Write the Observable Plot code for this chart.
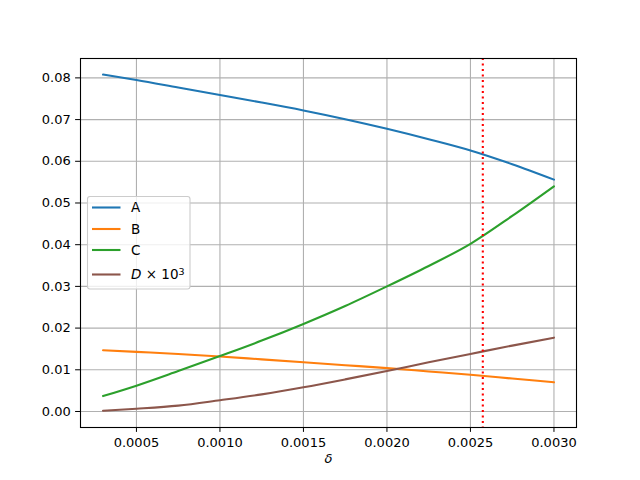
<!DOCTYPE html>
<html>
<head>
<meta charset="utf-8">
<script src="https://cdn.jsdelivr.net/npm/d3@7"></script>
<script src="https://cdn.jsdelivr.net/npm/@observablehq/plot@0.6"></script>
<style>
  html, body { margin: 0; padding: 0; background: #fff; }
  #chart { position: relative; width: 640px; height: 480px; }
</style>
</head>
<body>
<div id="chart"></div>
<script>
// ---- data ----
const delta = [0.0003, 0.0005, 0.00075, 0.001, 0.00125, 0.0015, 0.00175, 0.002, 0.00225, 0.0025, 0.00275, 0.003];
const seriesA = [0.0808, 0.0795, 0.0777, 0.0759, 0.0741, 0.0722, 0.0701, 0.0678, 0.0653, 0.0626, 0.0593, 0.0556];
const seriesB = [0.0147, 0.0143, 0.0138, 0.0132, 0.0125, 0.0118, 0.0111, 0.0104, 0.0096, 0.0088, 0.0079, 0.0070];
const seriesC = [0.0037, 0.0062, 0.0097, 0.0133, 0.0170, 0.0210, 0.0253, 0.0300, 0.0349, 0.0402, 0.0469, 0.0540];
const seriesD = [0.00018, 0.00065, 0.0014, 0.0027, 0.0041, 0.0058, 0.0077, 0.0097, 0.0118, 0.0138, 0.0158, 0.0177];
const seriesNames = ["A", "B", "C", "D"];
const seriesColors = ["#1f77b4", "#ff7f0e", "#2ca02c", "#8c564b"];
const xTicks = [0.0005, 0.0010, 0.0015, 0.0020, 0.0025, 0.0030];
const yTicks = [0.00, 0.01, 0.02, 0.03, 0.04, 0.05, 0.06, 0.07, 0.08];
const markerX = [0.002574];
const xLabel = "δ";

const allSeries = [seriesA, seriesB, seriesC, seriesD];
const table = seriesNames.flatMap((name, i) =>
  delta.map((d, j) => ({ delta: d, value: allSeries[i][j], series: name })));

const grid = "#b0b0b0";
const plot = Plot.plot({
  width: 640,
  height: 480,
  marginLeft: 80,
  marginRight: 64,
  marginTop: 58,
  marginBottom: 53,
  style: { fontFamily: "DejaVu Sans", fontSize: "13px", color: "black", background: "white" },
  x: { domain: [0.000165, 0.003135] },
  y: { domain: [-0.00384, 0.08465] },
  color: { domain: seriesNames, range: seriesColors },
  marks: [
    Plot.gridX(xTicks, { stroke: grid, strokeOpacity: 1, strokeWidth: 1.1 }),
    Plot.gridY(yTicks, { stroke: grid, strokeOpacity: 1, strokeWidth: 1.1 }),
    Plot.line(table, { x: "delta", y: "value", z: "series", stroke: "series", strokeWidth: 2.1, curve: "monotone-x" }),
    Plot.ruleX(markerX, { stroke: "#ff0000", strokeWidth: 2.1, strokeDasharray: "2.1,3.4" }),
    Plot.frame({ stroke: "black", strokeWidth: 1.1 }),
    Plot.axisX(xTicks, { tickFormat: d3.format(".4f"), tickSize: 4.9, tickPadding: 4.9, label: null, fontSize: 13 }),
    Plot.axisY(yTicks, { tickFormat: d3.format(".2f"), tickSize: 4.9, tickPadding: 4.9, label: null, fontSize: 13 }),
    Plot.text([xLabel], { frameAnchor: "bottom", dy: 35, fontStyle: "italic", fontSize: 13 })
  ]
});
document.getElementById("chart").appendChild(plot);

// legend drawn inside the axes, top-left like the reference
const svg = d3.select(plot);
const lg = svg.append("g")
  .style("font-family", "DejaVu Sans")
  .style("font-size", "13px")
  .style("text-anchor", "start");
lg.append("rect")
  .attr("x", 87.5).attr("y", 196.5).attr("width", 102.5).attr("height", 92.5)
  .attr("rx", 2.5).attr("fill", "white").attr("fill-opacity", 0.8)
  .attr("stroke", "#cccccc").attr("stroke-width", 1.1);
const rowY = [207.5, 229, 250, 274.5];
seriesNames.forEach((name, i) => {
  lg.append("line").attr("x1", 92).attr("x2", 120.5).attr("y1", rowY[i]).attr("y2", rowY[i])
    .attr("stroke", seriesColors[i]).attr("stroke-width", 2.1);
  const t = lg.append("text").attr("x", 131).attr("y", rowY[i]).attr("dy", "0.35em")
    .style("text-anchor", "start").style("font-size", "13.5px");
  if (name === "D") {
    t.append("tspan").style("font-style", "italic").text("D");
    t.append("tspan").text(" × 10");
    t.append("tspan").style("font-size", "9.5px").attr("dy", "-0.45em").text("3");
  } else {
    t.text(name);
  }
});
</script>
</body>
</html>
